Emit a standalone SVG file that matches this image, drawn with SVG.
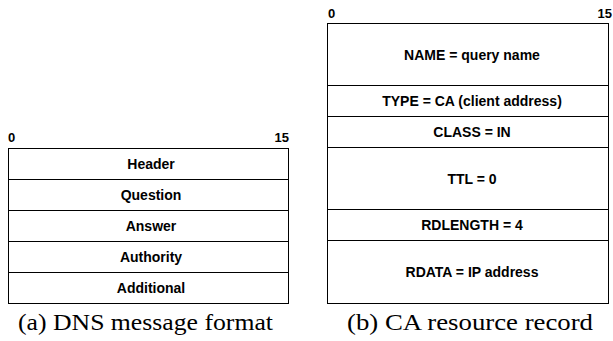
<svg xmlns="http://www.w3.org/2000/svg" width="613" height="341" viewBox="0 0 613 341">
<style>
.box{fill:#fff;stroke:#000;stroke-width:1}
.sep{stroke:#000;stroke-width:1}
.f{font-family:"Liberation Sans",Arial,sans-serif;font-weight:bold;font-size:14px;fill:#000;text-anchor:middle}
.b{font-family:"Liberation Sans",Arial,sans-serif;font-weight:bold;font-size:13px;fill:#000}
.cap{font-family:"Liberation Serif","Times New Roman",serif;font-size:23px;fill:#000;text-anchor:middle}
</style>
<rect width="613" height="341" fill="#fff"/>
<g id="dns-message">
<text class="b" x="8" y="142">0</text>
<text class="b" x="289" y="142" text-anchor="end">15</text>
<rect class="box" x="8.5" y="148.5" width="280" height="155"/>
<line class="sep" x1="8.5" y1="179.5" x2="288.5" y2="179.5"/>
<line class="sep" x1="8.5" y1="210.5" x2="288.5" y2="210.5"/>
<line class="sep" x1="8.5" y1="241.5" x2="288.5" y2="241.5"/>
<line class="sep" x1="8.5" y1="272.5" x2="288.5" y2="272.5"/>
<text class="f" x="151" y="169">Header</text>
<text class="f" x="151" y="200">Question</text>
<text class="f" x="151" y="231">Answer</text>
<text class="f" x="151" y="262">Authority</text>
<text class="f" x="151" y="293">Additional</text>
<text class="cap" x="145.5" y="330" textLength="255" lengthAdjust="spacingAndGlyphs">(a) DNS message format</text>
</g>
<g id="ca-record">
<text class="b" x="328" y="18">0</text>
<text class="b" x="612" y="18" text-anchor="end">15</text>
<rect class="box" x="327.5" y="23.5" width="281" height="280"/>
<line class="sep" x1="327.5" y1="85.5" x2="608.5" y2="85.5"/>
<line class="sep" x1="327.5" y1="116.5" x2="608.5" y2="116.5"/>
<line class="sep" x1="327.5" y1="147.5" x2="608.5" y2="147.5"/>
<line class="sep" x1="327.5" y1="209.5" x2="608.5" y2="209.5"/>
<line class="sep" x1="327.5" y1="240.5" x2="608.5" y2="240.5"/>
<text class="f" x="472" y="60">NAME = query name</text>
<text class="f" x="472" y="106">TYPE = CA (client address)</text>
<text class="f" x="472" y="137">CLASS = IN</text>
<text class="f" x="472" y="184">TTL = 0</text>
<text class="f" x="472" y="230">RDLENGTH = 4</text>
<text class="f" x="472" y="277">RDATA = IP address</text>
<text class="cap" x="470" y="330" textLength="246" lengthAdjust="spacingAndGlyphs">(b) CA resource record</text>
</g>
</svg>
